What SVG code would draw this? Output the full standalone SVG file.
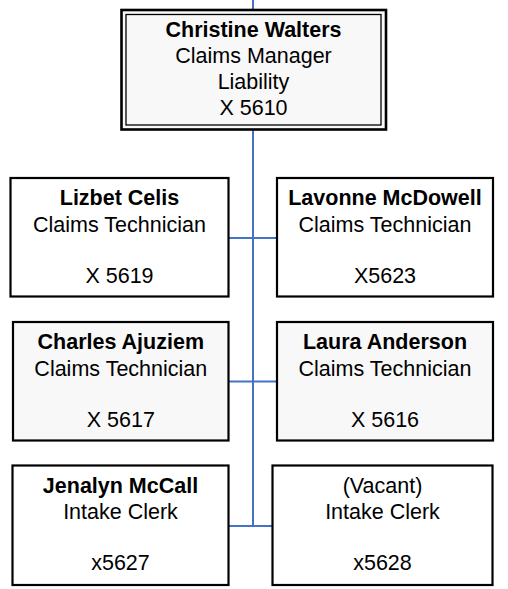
<svg xmlns="http://www.w3.org/2000/svg" width="508" height="589" viewBox="0 0 508 589">
<style>
.box{fill:#ffffff;stroke:#000000;stroke-width:2.2}
.gray{fill:#f8f8f8}
.inner{fill:none;stroke:#000000;stroke-width:1.3}
.conn{stroke:#4472c4;stroke-width:2;fill:none}
text{font-family:"Liberation Sans",Arial,sans-serif;font-size:21.5px;fill:#000;text-anchor:middle}
.b{font-weight:bold}
</style>
<rect width="508" height="589" fill="#ffffff"/>
<g id="connectors">
<line class="conn" x1="253" y1="0" x2="253" y2="10"/>
<line class="conn" x1="253" y1="130" x2="253" y2="526"/>
<line class="conn" x1="229" y1="238" x2="277" y2="238"/>
<line class="conn" x1="229" y1="381.5" x2="277" y2="381.5"/>
<line class="conn" x1="229" y1="526" x2="272" y2="526"/>
</g>
<g id="christine">
<rect class="box gray" x="121.5" y="10" width="264.5" height="119.5" style="stroke-width:2.6"/>
<rect class="inner" x="126" y="14.5" width="255" height="110.5"/>
<text x="253.5" y="37" class="b">Christine Walters</text>
<text x="253.5" y="63">Claims Manager</text>
<text x="253.5" y="89">Liability</text>
<text x="253.5" y="114.5">X 5610</text>
</g>
<g id="lizbet">
<rect class="box" x="10.5" y="178" width="218" height="118.5"/>
<text x="119.5" y="205" class="b">Lizbet Celis</text>
<text x="119.5" y="231.5">Claims Technician</text>
<text x="119.5" y="283">X 5619</text>
</g>
<g id="lavonne">
<rect class="box" x="277" y="178" width="216" height="118.5"/>
<text x="385" y="205" class="b">Lavonne McDowell</text>
<text x="385" y="231.5">Claims Technician</text>
<text x="385" y="283">X5623</text>
</g>
<g id="charles">
<rect class="box gray" x="13" y="322" width="215.5" height="118.5"/>
<text x="120.8" y="349.3" class="b">Charles Ajuziem</text>
<text x="120.8" y="375.7">Claims Technician</text>
<text x="120.8" y="427.3">X 5617</text>
</g>
<g id="laura">
<rect class="box gray" x="277" y="322" width="216" height="118.5"/>
<text x="385" y="349.3" class="b">Laura Anderson</text>
<text x="385" y="375.7">Claims Technician</text>
<text x="385" y="427.3">X 5616</text>
</g>
<g id="jenalyn">
<rect class="box" x="12.5" y="465.5" width="216" height="119.5"/>
<text x="120.5" y="493.3" class="b">Jenalyn McCall</text>
<text x="120.5" y="519.3">Intake Clerk</text>
<text x="120.5" y="570">x5627</text>
</g>
<g id="vacant">
<rect class="box" x="272.5" y="465.5" width="220" height="119.5"/>
<text x="382.5" y="493.3">(Vacant)</text>
<text x="382.5" y="519.3">Intake Clerk</text>
<text x="382.5" y="570">x5628</text>
</g>
</svg>
